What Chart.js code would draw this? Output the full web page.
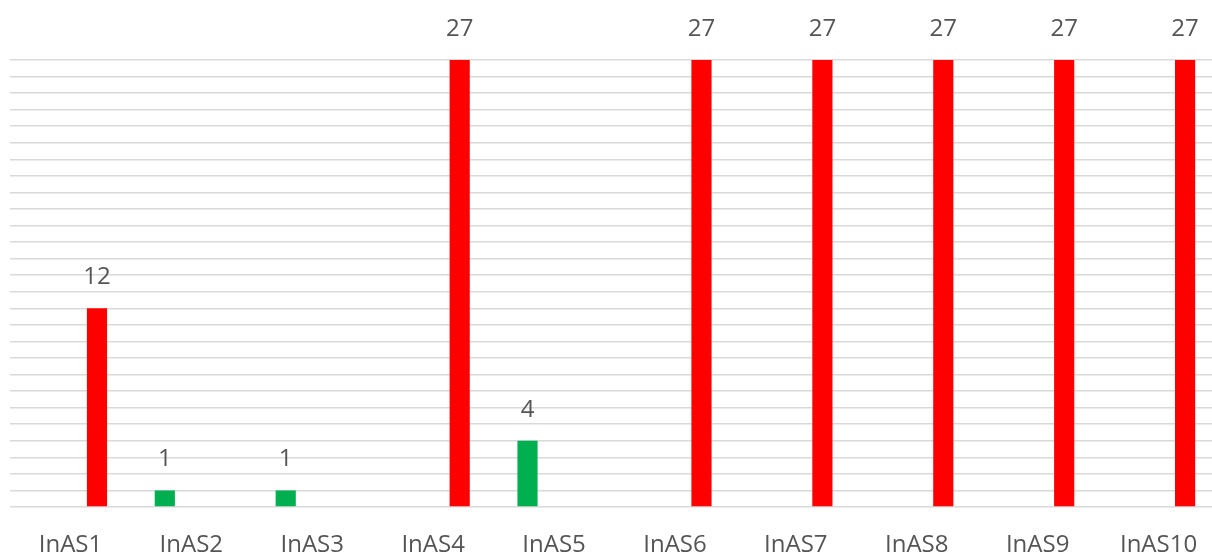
<!DOCTYPE html>
<html>
<head>
<meta charset="utf-8">
<script src="https://cdn.jsdelivr.net/npm/chart.js@4.4.0/dist/chart.umd.min.js"></script>
<style>
    html, body { margin: 0; padding: 0; background: #fff; overflow: hidden; }
    #wrap { position: relative; width: 1219px; height: 555px; }
</style>
</head>
<body>
<div id="wrap"><canvas id="myChart"></canvas></div>
<script>
    var categories = ["InAS1", "InAS2", "InAS3", "InAS4", "InAS5", "InAS6", "InAS7", "InAS8", "InAS9", "InAS10"];
    // green series (left in each group), null = no bar
    var greenValues = [null, 1, 1, null, 4, null, null, null, null, null];
    // red series (right in each group)
    var redValues = [12, null, null, 27, null, 27, 27, 27, 27, 27];
    var yTicks = { min: 0, max: 27, step: 1 };

    var textColor = "#555555";
    var fontFamily = "'Open Sans', 'Liberation Sans', sans-serif";

    // write the value above each bar
    var valueLabels = {
        id: "valueLabels",
        afterDatasetsDraw: function (chart) {
            var ctx = chart.ctx;
            ctx.save();
            ctx.fillStyle = textColor;
            ctx.font = "24px " + fontFamily;
            ctx.textAlign = "center";
            ctx.textBaseline = "middle";
            chart.data.datasets.forEach(function (ds, i) {
                var meta = chart.getDatasetMeta(i);
                meta.data.forEach(function (bar, j) {
                    var v = ds.data[j];
                    if (v === null || v === undefined) return;
                    ctx.fillText(String(v), bar.x, bar.y - 31);
                });
            });
            ctx.restore();
        }
    };

    var ctx = document.getElementById("myChart");
    var chart = new Chart(ctx, {
        type: "bar",
        data: {
            labels: categories,
            datasets: [{
                label: "green",
                data: greenValues,
                backgroundColor: "#00b050",
                categoryPercentage: 0.878,
                barPercentage: 0.38
            }, {
                label: "red",
                data: redValues,
                backgroundColor: "#ff0000",
                categoryPercentage: 0.878,
                barPercentage: 0.38
            }]
        },
        options: {
            responsive: true,
            maintainAspectRatio: false,
            animation: false,
            layout: { padding: { top: 60, left: 10, right: 0, bottom: 0 } },
            plugins: {
                legend: { display: false },
                tooltip: { enabled: false }
            },
            scales: {
                x: {
                    grid: { display: false },
                    border: { display: false },
                    ticks: {
                        color: textColor,
                        font: { family: fontFamily, size: 24 },
                        padding: 16,
                        maxRotation: 0,
                        autoSkip: false
                    },
                    afterFit: function (scale) { scale.height = 48; }
                },
                y: {
                    min: yTicks.min,
                    max: yTicks.max,
                    border: { display: false },
                    grid: { color: "#d9d9d9", lineWidth: 1.5, drawTicks: false },
                    ticks: { display: false, stepSize: yTicks.step },
                    afterFit: function (scale) { scale.width = 0; }
                }
            }
        },
        plugins: [valueLabels]
    });
</script>
</body>
</html>
